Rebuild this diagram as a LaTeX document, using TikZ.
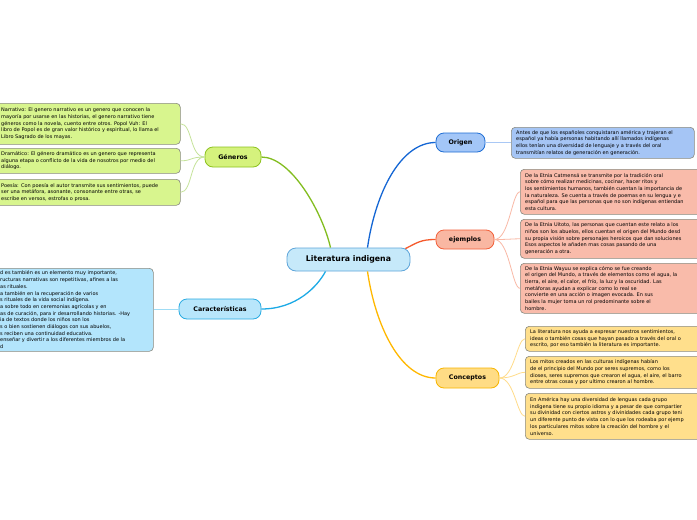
\documentclass[tikz,border=0pt]{standalone}
\usepackage{fontspec}
\newfontfamily\dejavu{DejaVu Sans}
\usetikzlibrary{calc}
\definecolor{cenF}{HTML}{C6E9FA}\definecolor{cenD}{HTML}{5FA6DA}
\definecolor{genF}{HTML}{D5F27D}\definecolor{genD}{HTML}{8DC21F}\definecolor{genC}{HTML}{82BD1F}
\definecolor{genL}{HTML}{D8F58E}\definecolor{genW}{HTML}{C5E39A}
\definecolor{carF}{HTML}{B8E6FB}\definecolor{carD}{HTML}{29ABE2}\definecolor{carC}{HTML}{1DAAE6}
\definecolor{carL}{HTML}{B3E5FC}\definecolor{carW}{HTML}{9FDCF5}
\definecolor{oriF}{HTML}{A3C6F7}\definecolor{oriD}{HTML}{1F6ED4}\definecolor{oriC}{HTML}{1466D4}
\definecolor{oriL}{HTML}{A5C5F5}\definecolor{oriW}{HTML}{A9C8F5}
\definecolor{ejeF}{HTML}{F9B7A2}\definecolor{ejeD}{HTML}{F2603A}\definecolor{ejeC}{HTML}{F55A2C}
\definecolor{ejeL}{HTML}{F9BBAA}\definecolor{ejeW}{HTML}{F9B9A6}
\definecolor{conF}{HTML}{FFDC85}\definecolor{conD}{HTML}{F7B500}\definecolor{conC}{HTML}{FFB800}
\definecolor{conL}{HTML}{FFDF8C}\definecolor{conW}{HTML}{FFDC8A}
\definecolor{leafD}{HTML}{8A8A80}
\newcommand\leaffont{\dejavu\fontsize{5}{6.7}\selectfont}
\newcommand\leaf[8]{%
  \node[leafbox, fill=#2, minimum width=#5pt, minimum height=#6pt, anchor=north west] (#1) at (#3,#4) {};
  \node[leaftext, anchor=west] (#1-t) at ([xshift=#7pt]#1.west) {#8};
}
\begin{document}
\begin{tikzpicture}[x=1pt,y=-1pt,
  topic/.style={draw, line width=0.8pt, rounded corners=9pt, inner sep=0pt,
    font=\dejavu\bfseries\fontsize{7.8}{9}\selectfont},
  branch/.style={draw, line width=0.8pt, rounded corners=8pt, inner sep=0pt,
    font=\dejavu\bfseries\fontsize{6.3}{8}\selectfont},
  leafbox/.style={draw=leafD, line width=0.6pt, rounded corners=4pt, inner sep=0pt},
  leaftext/.style={font=\leaffont, align=left, inner sep=0pt, text=black},
  mainline/.style={line width=1.3pt},
  leafline/.style={line width=0.8pt}]
\useasboundingbox (0,0) rectangle (697,520);
\fill[white] (0,0) rectangle (697,520);
\clip (0,0) rectangle (697,520);

% leaves
\leaf{narr}{genL}{-10}{103}{190}{41}{11}{Narrativo: El genero narrativo es un genero que conocen la\\mayoría por usarse en las historias, el genero narrativo tiene\\géneros como la novela, cuento entre otros. Popol Vuh: El\\libro de Popol es de gran valor histórico y espiritual, lo llama el\\Libro Sagrado de los mayas.}
\leaf{dram}{genL}{-10}{148}{190}{25}{11}{Dramático: El género dramático es un genero que representa\\alguna etapa o conflicto de la vida de nosotros por medio del\\diálogo.}
\leaf{poes}{genL}{-10}{179}{190}{26}{11}{Poesía: Con poesía el autor transmite sus sentimientos, puede\\ser una metáfora, asonante, consonante entre otras, se\\escribe en versos, estrofas o prosa.}
\leaf{cara}{carL}{-10}{268}{163}{83}{10}{d es también es un elemento muy importante,\\ructuras narrativas son repetitivas, afines a las\\as rituales.\\a también en la recuperación de varios\\s rituales de la vida social indígena.\\a sobre todo en ceremonias agrícolas y en\\as de curación, para ir desarrollando historias. -Hay\\ia de textos donde los niños son los\\s o bien sostienen diálogos con sus abuelos,\\s reciben una continuidad educativa.\\enseñar y divertir a los diferentes miembros de la\\d}
\leaf{orig}{oriL}{511}{127}{183}{31}{5}{Antes de que los españoles conquistaran américa y trajeran el\\español ya había personas habitando allí llamados indígenas\\ellos tenían una diversidad de lenguaje y a través del oral\\transmitían relatos de generación en generación.}
\leaf{ej1}{ejeL}{520}{169}{190}{45}{5}{De la Etnia Catmensá se transmite por la tradición oral\\sobre cómo realizar medicinas, cocinar, hacer ritos y\\los sentimientos humanos, también cuentan la importancia de\\la naturaleza. Se cuenta a través de poemas en su lengua y e\\español para que las personas que no son indígenas entiendan\\esta cultura.}
\leaf{ej2}{ejeL}{520}{219}{190}{39}{5}{De la Etnia Uitoto, las personas que cuentan este relato a los\\niños son los abuelos, ellos cuentan el origen del Mundo desd\\su propia visión sobre personajes heroicos que dan soluciones\\Esos aspectos le añaden mas cosas pasando de una\\generación a otra.}
\leaf{ej3}{ejeL}{520}{263}{190}{50}{5}{De la Etnia Wayuu se explica cómo se fue creando\\el origen del Mundo, a través de elementos como el agua, la\\tierra, el aire, el calor, el frío, la luz y la oscuridad. Las\\metáforas ayudan a explicar como lo real se\\convierte en una acción o imagen evocada. En sus\\bailes la mujer toma un rol predominante sobre el\\hombre.}
\leaf{co1}{conL}{525}{326}{190}{25}{5}{La literatura nos ayuda a expresar nuestros sentimientos,\\ideas o también cosas que hayan pasado a través del oral o\\escrito, por eso también la literatura es importante.}
\leaf{co2}{conL}{525}{356}{190}{32}{5}{Los mitos creados en las culturas indígenas habían\\de el principio del Mundo por seres supremos, como los\\dioses, seres supremos que crearon el agua, el aire, el barro\\entre otras cosas y por ultimo crearon al hombre.}
\leaf{co3}{conL}{525}{393}{190}{46}{5}{En América hay una diversidad de lenguas cada grupo\\indígena tiene su propio idioma y a pesar de que compartier\\su divinidad con ciertos astros y divinidades cada grupo teni\\un diferente punto de vista con lo que los rodeaba por ejemp\\los particulares mitos sobre la creación del hombre y el\\universo.}

% main nodes
\node[topic, fill=cenF, draw=cenD, minimum width=123pt, minimum height=23pt] (central) at (348.5,259.5) {Literatura indigena};
\node[branch, fill=genF, draw=genD, minimum width=56pt, minimum height=20pt] (gen) at (233,157) {Géneros};
\node[branch, fill=carF, draw=carD, minimum width=82pt, minimum height=20pt] (car) at (220,309) {Características};
\node[branch, fill=oriF, draw=oriD, minimum width=49pt, minimum height=19pt] (ori) at (460.5,142.5) {Origen};
\node[branch, fill=ejeF, draw=ejeD, minimum width=58pt, minimum height=19pt] (eje) at (465,239.5) {ejemplos};
\node[branch, fill=conF, draw=conD, minimum width=63pt, minimum height=20pt] (con) at (467.5,378) {Conceptos};

% main connectors
\draw[mainline, genC] (gen.east) .. controls +(30,0) and +(-8,-35) .. ([xshift=-18pt]central.north);
\draw[mainline, carC] (car.east) .. controls +(35,0) and +(-8,15) .. ([xshift=-23pt]central.south);
\draw[mainline, oriC] ([xshift=19pt]central.north) .. controls +(8,-55) and +(-35,0) .. (ori.west);
\draw[mainline, ejeC] ($(central.north east)+(-5,1)$) .. controls +(12,-6) and +(-15,0) .. (eje.west);
\draw[mainline, conC] ([xshift=19pt]central.south) .. controls +(8,55) and +(-35,0) .. (con.west);

% leaf connectors
\foreach \l in {narr,dram,poes}
  \draw[leafline, genW] (gen.west) .. controls +(-15,0) and +(12,0) .. (\l.east);
\draw[leafline, carW] (car.west) -- (car.west -| cara.east);
\draw[leafline, oriW] (ori.east) -- (ori.east -| orig.west);
\foreach \l in {ej1,ej2,ej3}
  \draw[leafline, ejeW] (eje.east) .. controls +(15,0) and +(-8,0) .. (\l.west);
\foreach \l in {co1,co2,co3}
  \draw[leafline, conW] (con.east) .. controls +(15,0) and +(-8,0) .. (\l.west);
\end{tikzpicture}
\end{document}
